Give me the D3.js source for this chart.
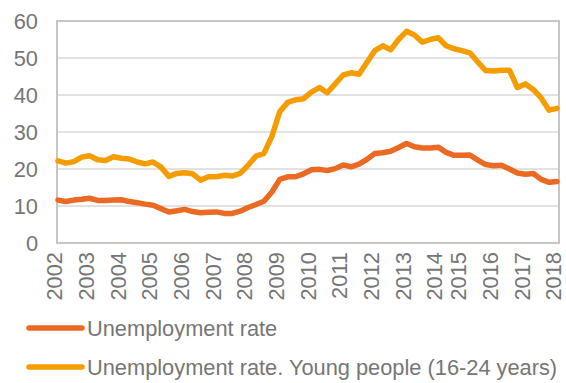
<!DOCTYPE html>
<html>
<head>
<meta charset="utf-8">
<script src="https://cdn.jsdelivr.net/npm/d3@7/dist/d3.min.js"></script>
<style>
  html, body { margin: 0; padding: 0; background: #fff; }
  svg { display: block; font-family: Arial, "Liberation Sans", sans-serif; }
</style>
</head>
<body>
<svg id="chart" width="566" height="383"></svg>
<script>
// quarters 2002 Q1 .. 2017 Q4
var periods = [];
for (var yr = 2002; yr <= 2017; yr++) {
  for (var q = 1; q <= 4; q++) periods.push(yr + " Q" + q);
}

// unemployment rate, %
var unemployment = [
  11.6, 11.2, 11.6, 11.8,  12.1, 11.5, 11.5, 11.6,
  11.7, 11.2, 10.9, 10.5,  10.2, 9.3, 8.4, 8.7,
  9.1, 8.5, 8.2, 8.3,      8.4, 8.0, 8.0, 8.6,
  9.6, 10.4, 11.3, 13.8,   17.2, 17.9, 17.9, 18.7,
  19.8, 19.9, 19.6, 20.1,  21.1, 20.6, 21.3, 22.6,
  24.2, 24.4, 24.8, 25.8,  26.9, 26.0, 25.7, 25.7,
  25.9, 24.5, 23.7, 23.7,  23.8, 22.4, 21.2, 20.9,
  21.0, 20.0, 18.9, 18.6,  18.8, 17.2, 16.4, 16.6
];

// young people (16-24 years), %
var youth = [
  22.2, 21.6, 22.0, 23.2,  23.6, 22.5, 22.3, 23.3,
  22.9, 22.7, 21.9, 21.4,  21.9, 20.5, 18.0, 18.8,
  19.0, 18.7, 17.0, 17.9,  17.9, 18.3, 18.1, 18.8,
  21.0, 23.5, 24.2, 28.8,  35.5, 38.0, 38.7, 39.0,
  40.8, 42.0, 40.6, 43.0,  45.4, 46.0, 45.6, 48.8,
  52.0, 53.3, 52.2, 55.0,  57.2, 56.2, 54.3, 55.0,
  55.5, 53.3, 52.5, 52.0,  51.4, 48.9, 46.6, 46.5,
  46.7, 46.7, 42.0, 43.0,  41.5, 39.2, 35.9, 36.4
];

// where the year labels sit on the category axis
var tickPeriods = ["2002 Q1","2003 Q1","2004 Q1","2005 Q1","2006 Q1","2007 Q1",
  "2008 Q1","2009 Q1","2010 Q1","2011 Q1","2012 Q1","2013 Q1","2014 Q1",
  "2014 Q4","2015 Q4","2016 Q4","2017 Q4"];
var tickLabels = ["2002","2003","2004","2005","2006","2007","2008","2009","2010",
  "2011","2012","2013","2014","2015","2016","2017","2018"];

var yTicks = [0, 10, 20, 30, 40, 50, 60];

var seriesNames = ["Unemployment rate", "Unemployment rate. Young people (16-24 years)"];
var seriesColors = ["#EA6A24", "#F59D00"];

var svg = d3.select("#chart");
var textColor = "#767676";
var fontSize = "21.8px";

var frame = { left: 57, right: 559, top: 21, bottom: 243 };

var x = d3.scalePoint().domain(periods).range([58, 557]);
var y = d3.scaleLinear().domain([0, 60]).range([frame.bottom, frame.top]);

// gridlines
svg.append("g")
  .selectAll("line")
  .data(yTicks.slice(1, -1))
  .enter().append("line")
  .attr("x1", frame.left).attr("x2", frame.right)
  .attr("y1", d => y(d)).attr("y2", d => y(d))
  .attr("stroke", "#d9d9d9").attr("stroke-width", 1.5);

// plot frame
svg.append("rect")
  .attr("x", frame.left).attr("y", frame.top)
  .attr("width", frame.right - frame.left).attr("height", frame.bottom - frame.top)
  .attr("fill", "none").attr("stroke", "#c4bfba").attr("stroke-width", 1.8);

// y axis labels
var yAxis = svg.append("g")
  .attr("transform", "translate(" + (frame.left - 19) + ",0)")
  .call(d3.axisLeft(y).tickValues(yTicks).tickSize(0).tickPadding(0));
yAxis.select(".domain").remove();
yAxis.selectAll("text")
  .attr("fill", textColor).style("font-size", fontSize)
  .attr("dy", "0.36em");

// x axis labels, rotated
var labelOf = {};
tickPeriods.forEach((p, i) => labelOf[p] = tickLabels[i]);
var xAxis = svg.append("g")
  .attr("transform", "translate(0," + frame.bottom + ")")
  .call(d3.axisBottom(x).tickValues(tickPeriods).tickFormat(d => labelOf[d]).tickSize(0));
xAxis.select(".domain").remove();
xAxis.selectAll("text")
  .attr("fill", textColor).style("font-size", fontSize)
  .attr("text-anchor", "end")
  .attr("transform", "rotate(-90)")
  .attr("x", -9).attr("y", 0).attr("dy", "0.17em");

// lines
var line = d3.line()
  .x((d, i) => x(periods[i]))
  .y(d => y(d));

[unemployment, youth].forEach(function(vals, si) {
  svg.append("path")
    .datum(vals)
    .attr("d", line)
    .attr("fill", "none")
    .attr("stroke", seriesColors[si])
    .attr("stroke-width", 5.5)
    .attr("stroke-linejoin", "round")
    .attr("stroke-linecap", "round");
});

// legend
var legend = svg.append("g")
  .selectAll("g")
  .data(seriesNames)
  .enter().append("g")
  .attr("transform", (d, i) => "translate(0," + (328 + i * 39) + ")");
legend.append("line")
  .attr("x1", 29).attr("x2", 82)
  .attr("stroke", (d, i) => seriesColors[i])
  .attr("stroke-width", 5.5)
  .attr("stroke-linecap", "round");
legend.append("text")
  .attr("x", 87).attr("dy", "0.36em")
  .attr("fill", textColor).style("font-size", fontSize)
  .text(d => d);
</script>
</body>
</html>
